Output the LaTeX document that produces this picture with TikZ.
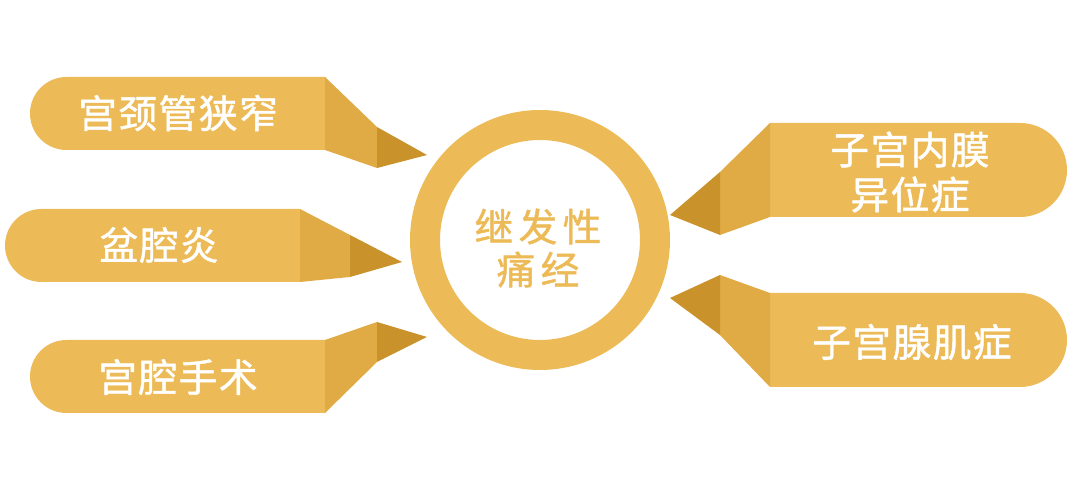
\documentclass[tikz,border=0pt]{standalone}
\usepackage{fontspec}
\newfontfamily\cjk[LetterSpace=4, FakeBold=1.2]{Noto Sans CJK SC}
\newfontfamily\cjkwide[LetterSpace=14, FakeBold=1.2]{Noto Sans CJK SC}
\definecolor{goldmain}{RGB}{236,187,88}
\definecolor{goldmid}{RGB}{224,170,68}
\definecolor{golddark}{RGB}{201,146,42}
\tikzset{
  bannerbody/.style={fill=goldmain},
  bannerfold/.style={fill=goldmid},
  bannertip/.style={fill=golddark},
  bannertext/.style={text=white, font=\fontsize{22}{25.6}\cjk, align=center},
}

\begin{document}
\begin{tikzpicture}[x=0.02cm, y=0.02cm]
      \useasboundingbox (0, 0) rectangle (1080, -479);

      \begin{scope}
        \fill [bannerbody] (325, -77) -- (66.5, -77) arc [start angle=90, end angle=270, radius=36.5] -- (325, -150) -- cycle;
        \fill [bannerfold] (325, -77) -- (377, -127) -- (377, -168) -- (325, -150) -- cycle;
        \fill [bannertip] (377, -127) -- (427, -155) -- (377, -168) -- cycle;
        \node (stenosis) at (178, -113) [bannertext] {宫颈管狭窄};
      \end{scope}

      \begin{scope}
        \fill [bannerbody] (300, -209) -- (41.5, -209) arc [start angle=90, end angle=270, radius=36.5] -- (300, -282) -- cycle;
        \fill [bannerfold] (300, -209) -- (350, -235) -- (350, -277) -- (300, -282) -- cycle;
        \fill [bannertip] (350, -235) -- (402, -262) -- (350, -277) -- cycle;
        \node (pelvic) at (159, -245) [bannertext] {盆腔炎};
      \end{scope}

      \begin{scope}
        \fill [bannerbody] (325, -340) -- (66.5, -340) arc [start angle=90, end angle=270, radius=36.5] -- (325, -413) -- cycle;
        \fill [bannerfold] (325, -340) -- (377, -322) -- (377, -362) -- (325, -413) -- cycle;
        \fill [bannertip] (377, -322) -- (427, -337) -- (377, -362) -- cycle;
        \node (surgery) at (178, -377) [bannertext] {宫腔手术};
      \end{scope}

      \begin{scope}
        \fill [bannerbody] (770, -123) -- (1020, -123) arc [start angle=90, end angle=-90, radius=47] -- (770, -217) -- cycle;
        \fill [bannerfold] (770, -123) -- (720, -172) -- (720, -235) -- (770, -217) -- cycle;
        \fill [bannertip] (720, -172) -- (670, -215) -- (720, -235) -- cycle;
        \node (endometriosis) at (910, -172) [bannertext] {子宫内膜\\异位症};
      \end{scope}

      \begin{scope}
        \fill [bannerbody] (770, -293) -- (1020, -293) arc [start angle=90, end angle=-90, radius=47] -- (770, -387) -- cycle;
        \fill [bannerfold] (770, -293) -- (720, -275) -- (720, -335) -- (770, -387) -- cycle;
        \fill [bannertip] (720, -275) -- (670, -298) -- (720, -335) -- cycle;
        \node (adenomyosis) at (912, -342) [bannertext] {子宫腺肌症};
      \end{scope}

      \draw [goldmain, line width=0.6cm] (540, -240) circle [radius=115];
      \node (center) at (538, -248) [align=center, text=goldmain, font=\fontsize{22}{24.5}\cjkwide] {继发性\\痛经};
    \end{tikzpicture}
\end{document}
